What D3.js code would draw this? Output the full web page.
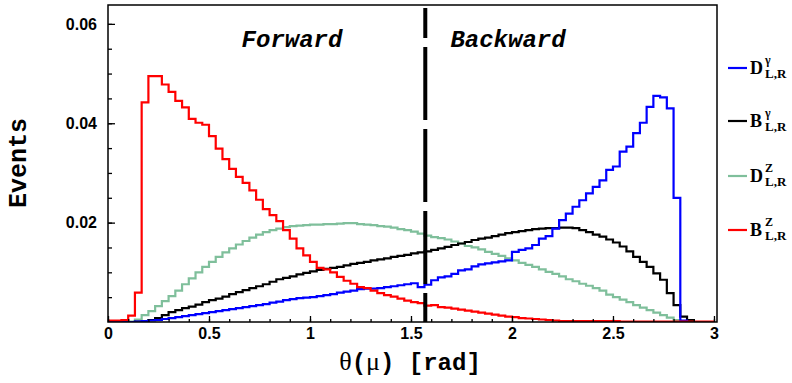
<!DOCTYPE html>
<html>
<head>
<meta charset="utf-8">
<script src="https://cdn.jsdelivr.net/npm/d3@7"></script>
<style>
  html, body { margin: 0; padding: 0; background: #fff; }
  svg { display: block; }
</style>
</head>
<body>
<svg id="chart" width="792" height="383"></svg>
<script>
// ---------------- data ----------------
const binWidth = 1 / 30;            // rad
const nBins = 90;                    // bins over [0, 3] rad
const xTickValues = [0, 0.5, 1, 1.5, 2, 2.5, 3];
const yTickValues = [0.02, 0.04, 0.06];
const seriesNames = ["D", "B", "D", "B"];
const seriesSup = ["γ", "γ", "Z", "Z"];
const seriesSub = ["L,R", "L,R", "L,R", "L,R"];
const seriesColors = ["#0000ff", "#000000", "#7fbf9b", "#ff0000"];

const dGamma = [0,0,0,0,0.0001, 0.0002,0.0003,0.0004,0.0006,0.0008, 0.0010,0.0012,0.0014,0.0016,0.0018,
  0.0020,0.0022,0.0024,0.0026,0.0028, 0.0030,0.0032,0.0034,0.0036,0.0039, 0.0041,0.0044,0.0046,0.0048,0.0049,
  0.0050,0.0052,0.0054,0.0056,0.0059, 0.0061,0.0063,0.0066,0.0067,0.0067, 0.0068,0.0070,0.0072,0.0074,0.0076,
  0.0078,0.0070,0.0075,0.0084,0.0090, 0.0092,0.0097,0.0104,0.0106,0.0112, 0.0116,0.0118,0.0120,0.0122,0.0124,
  0.0141,0.0145,0.0148,0.0155,0.0168, 0.0173,0.0188,0.0205,0.0218,0.0232, 0.0245,0.0259,0.0272,0.0285,0.0306,
  0.0313,0.0343,0.0353,0.0380,0.0401, 0.0433,0.0455,0.0452,0.0430,0.0250, 0.0003,0,0,0,0];

const bGamma = [0,0,0,0,0.0001, 0.0001,0.0004,0.0008,0.0014,0.0020, 0.0024,0.0028,0.0031,0.0035,0.0040,
  0.0044,0.0047,0.0051,0.0056,0.0060, 0.0064,0.0068,0.0072,0.0076,0.0081, 0.0086,0.0089,0.0092,0.0096,0.0099,
  0.0102,0.0105,0.0107,0.0109,0.0111, 0.0114,0.0117,0.0119,0.0121,0.0124, 0.0126,0.0128,0.0131,0.0133,0.0135,
  0.0138,0.0140,0.0142,0.0145,0.0148, 0.0151,0.0155,0.0158,0.0161,0.0165, 0.0168,0.0170,0.0173,0.0176,0.0179,
  0.0181,0.0183,0.0185,0.0187,0.0188, 0.0189,0.0189,0.0190,0.0190,0.0189, 0.0185,0.0181,0.0176,0.0172,0.0166,
  0.0160,0.0152,0.0142,0.0131,0.0121, 0.0111,0.0098,0.0085,0.0058,0.0034, 0.0011,0.0004,0,0,0];

const dZ = [0,0,0,0.0001,0.0005, 0.0014,0.0022,0.0032,0.0042,0.0052, 0.0063,0.0076,0.0088,0.0100,0.0111,
  0.0121,0.0131,0.0140,0.0148,0.0156, 0.0163,0.0170,0.0176,0.0181,0.0185, 0.0188,0.0191,0.0193,0.0194,0.0195,
  0.0196,0.0196,0.0197,0.0197,0.0198, 0.0199,0.0199,0.0197,0.0196,0.0195, 0.0193,0.0192,0.0190,0.0187,0.0185,
  0.0182,0.0178,0.0174,0.0171,0.0169, 0.0166,0.0162,0.0158,0.0153,0.0150, 0.0146,0.0141,0.0137,0.0133,0.0128,
  0.0124,0.0119,0.0115,0.0111,0.0106, 0.0101,0.0097,0.0092,0.0086,0.0082, 0.0077,0.0073,0.0068,0.0063,0.0055,
  0.0050,0.0045,0.0040,0.0034,0.0029, 0.0024,0.0019,0.0014,0.0009,0.0004, 0.0001,0,0,0,0];

const bZ = [0.0003,0.0003,0.0004,0.0013,0.0059, 0.0442,0.0495,0.0495,0.0478,0.0463, 0.0445,0.0432,0.0409,0.0401,0.0397,
  0.0374,0.0349,0.0328,0.0308,0.0292, 0.0280,0.0265,0.0246,0.0227,0.0215, 0.0203,0.0185,0.0168,0.0148,0.0134,
  0.0121,0.0109,0.0106,0.0100,0.0091, 0.0083,0.0077,0.0070,0.0068,0.0063, 0.0058,0.0054,0.0051,0.0047,0.0043,
  0.0040,0.0038,0.0033,0.0034,0.0030, 0.0029,0.0027,0.0025,0.0023,0.0021, 0.0019,0.0017,0.0015,0.0013,0.0011,
  0.0010,0.0008,0.0007,0.0006,0.0005, 0.0004,0.0003,0.0002,0.0002,0.0002, 0.0002,0.0002,0.0002,0.0002,0.0002,
  0.0002,0.0001,0.0001,0.0001,0.0001, 0.0001,0.0001,0.0001,0.0001,0.0001, 0.0001,0.0001,0.0001,0.0001,0.0001];

const seriesValues = [dGamma, bGamma, dZ, bZ];
const drawOrder = [2, 1, 0, 3];

// ---------------- layout ----------------
const plot = { left: 108, right: 717, top: 5, bottom: 322 };
const svg = d3.select("#chart");

const x = d3.scaleLinear().domain([0, 3.015]).range([plot.left, plot.right]);
const y = d3.scaleLinear().domain([0, 0.0638]).range([plot.bottom, plot.top]);

svg.append("defs").append("clipPath").attr("id", "clip")
  .append("rect").attr("x", plot.left).attr("y", plot.top)
  .attr("width", plot.right - plot.left).attr("height", plot.bottom - plot.top);

const binEdges = d3.range(nBins + 1).map(i => i * binWidth);
const line = d3.line().curve(d3.curveStepAfter).x(d => x(d[0])).y(d => y(d[1]));

const gLines = svg.append("g").attr("clip-path", "url(#clip)");
drawOrder.forEach(si => {
  const vals = seriesValues[si];
  const pts = vals.map((v, i) => [binEdges[i], v]);
  pts.push([binEdges[vals.length], vals[vals.length - 1]]);
  gLines.append("path").datum(pts)
    .attr("d", line)
    .attr("fill", "none")
    .attr("stroke", seriesColors[si])
    .attr("stroke-width", 2.2)
    .attr("stroke-linejoin", "miter");
});

// dashed separator at pi/2
svg.append("line")
  .attr("x1", x(Math.PI / 2)).attr("x2", x(Math.PI / 2))
  .attr("y1", 8).attr("y2", plot.bottom)
  .attr("stroke", "#000").attr("stroke-width", 4)
  .attr("stroke-dasharray", "73,9").attr("stroke-dashoffset", 43);

// axes
const tickFont = "Liberation Sans, Arial, sans-serif";
const xAxis = svg.append("g").attr("transform", `translate(0,${plot.bottom})`)
  .call(d3.axisBottom(x).tickValues(xTickValues).tickSize(-6).tickPadding(6).tickFormat(d => String(d)));
const xMinor = svg.append("g").attr("transform", `translate(0,${plot.bottom})`)
  .call(d3.axisBottom(x).tickValues(d3.range(0, 31).map(i => i / 10)).tickSize(-3).tickFormat(""));
const yAxis = svg.append("g").attr("transform", `translate(${plot.left},0)`)
  .call(d3.axisLeft(y).tickValues(yTickValues).tickSize(-7).tickPadding(11).tickFormat(d3.format(".2f")));
const yMinor = svg.append("g").attr("transform", `translate(${plot.left},0)`)
  .call(d3.axisLeft(y).tickValues(d3.range(1, 13).map(i => i * 0.005)).tickSize(-4).tickFormat(""));

[xAxis, xMinor, yAxis, yMinor].forEach(g => {
  g.select(".domain").remove();
  g.selectAll(".tick line").attr("stroke", "#000").attr("stroke-width", 1.3);
  g.selectAll("text").attr("font-family", tickFont).attr("font-weight", "bold")
    .attr("font-size", 16).attr("fill", "#000");
});

// frame
svg.append("rect")
  .attr("x", plot.left).attr("y", plot.top)
  .attr("width", plot.right - plot.left).attr("height", plot.bottom - plot.top)
  .attr("fill", "none").attr("stroke", "#000").attr("stroke-width", 1.5);

// annotations
const mono = "Liberation Mono, Courier New, monospace";
svg.append("text").attr("x", 292).attr("y", 47).attr("text-anchor", "middle")
  .attr("font-family", mono).attr("font-weight", "bold").attr("font-style", "italic")
  .attr("font-size", 24).text("Forward");
svg.append("text").attr("x", 508).attr("y", 47).attr("text-anchor", "middle")
  .attr("font-family", mono).attr("font-weight", "bold").attr("font-style", "italic")
  .attr("font-size", 24).text("Backward");

// axis titles
svg.append("text").attr("transform", "translate(25.5,163) rotate(-90)")
  .attr("text-anchor", "middle").attr("font-family", mono).attr("font-weight", "bold")
  .attr("font-size", 25).text("Events");

const xt = svg.append("text").attr("x", 410).attr("y", 370).attr("text-anchor", "middle")
  .attr("font-family", mono).attr("font-weight", "bold").attr("font-size", 24);
xt.append("tspan").attr("font-family", "Liberation Serif, serif").attr("font-weight", "normal").attr("font-size", 26).text("θ");
xt.append("tspan").text("(");
xt.append("tspan").attr("font-family", "Liberation Serif, serif").attr("font-weight", "normal").attr("font-size", 26).text("μ");
xt.append("tspan").text(") [rad]");

// legend
const legendY = [68, 121, 176, 230];
const serif = "Liberation Serif, Times New Roman, serif";
seriesNames.forEach((nm, i) => {
  const g = svg.append("g").attr("transform", `translate(0,${legendY[i]})`);
  g.append("line").attr("x1", 728).attr("x2", 747).attr("y1", 0).attr("y2", 0)
    .attr("stroke", seriesColors[i]).attr("stroke-width", 2.2);
  g.append("text").attr("x", 750).attr("y", 6).attr("font-family", serif)
    .attr("font-weight", "bold").attr("font-size", 18).text(nm);
  g.append("text").attr("x", 765).attr("y", -4).attr("font-family", serif)
    .attr("font-weight", "bold").attr("font-size", 12).text(seriesSup[i]);
  g.append("text").attr("x", 765).attr("y", 10).attr("font-family", serif)
    .attr("font-weight", "bold").attr("font-size", 13).text(seriesSub[i]);
});
</script>
</body>
</html>
